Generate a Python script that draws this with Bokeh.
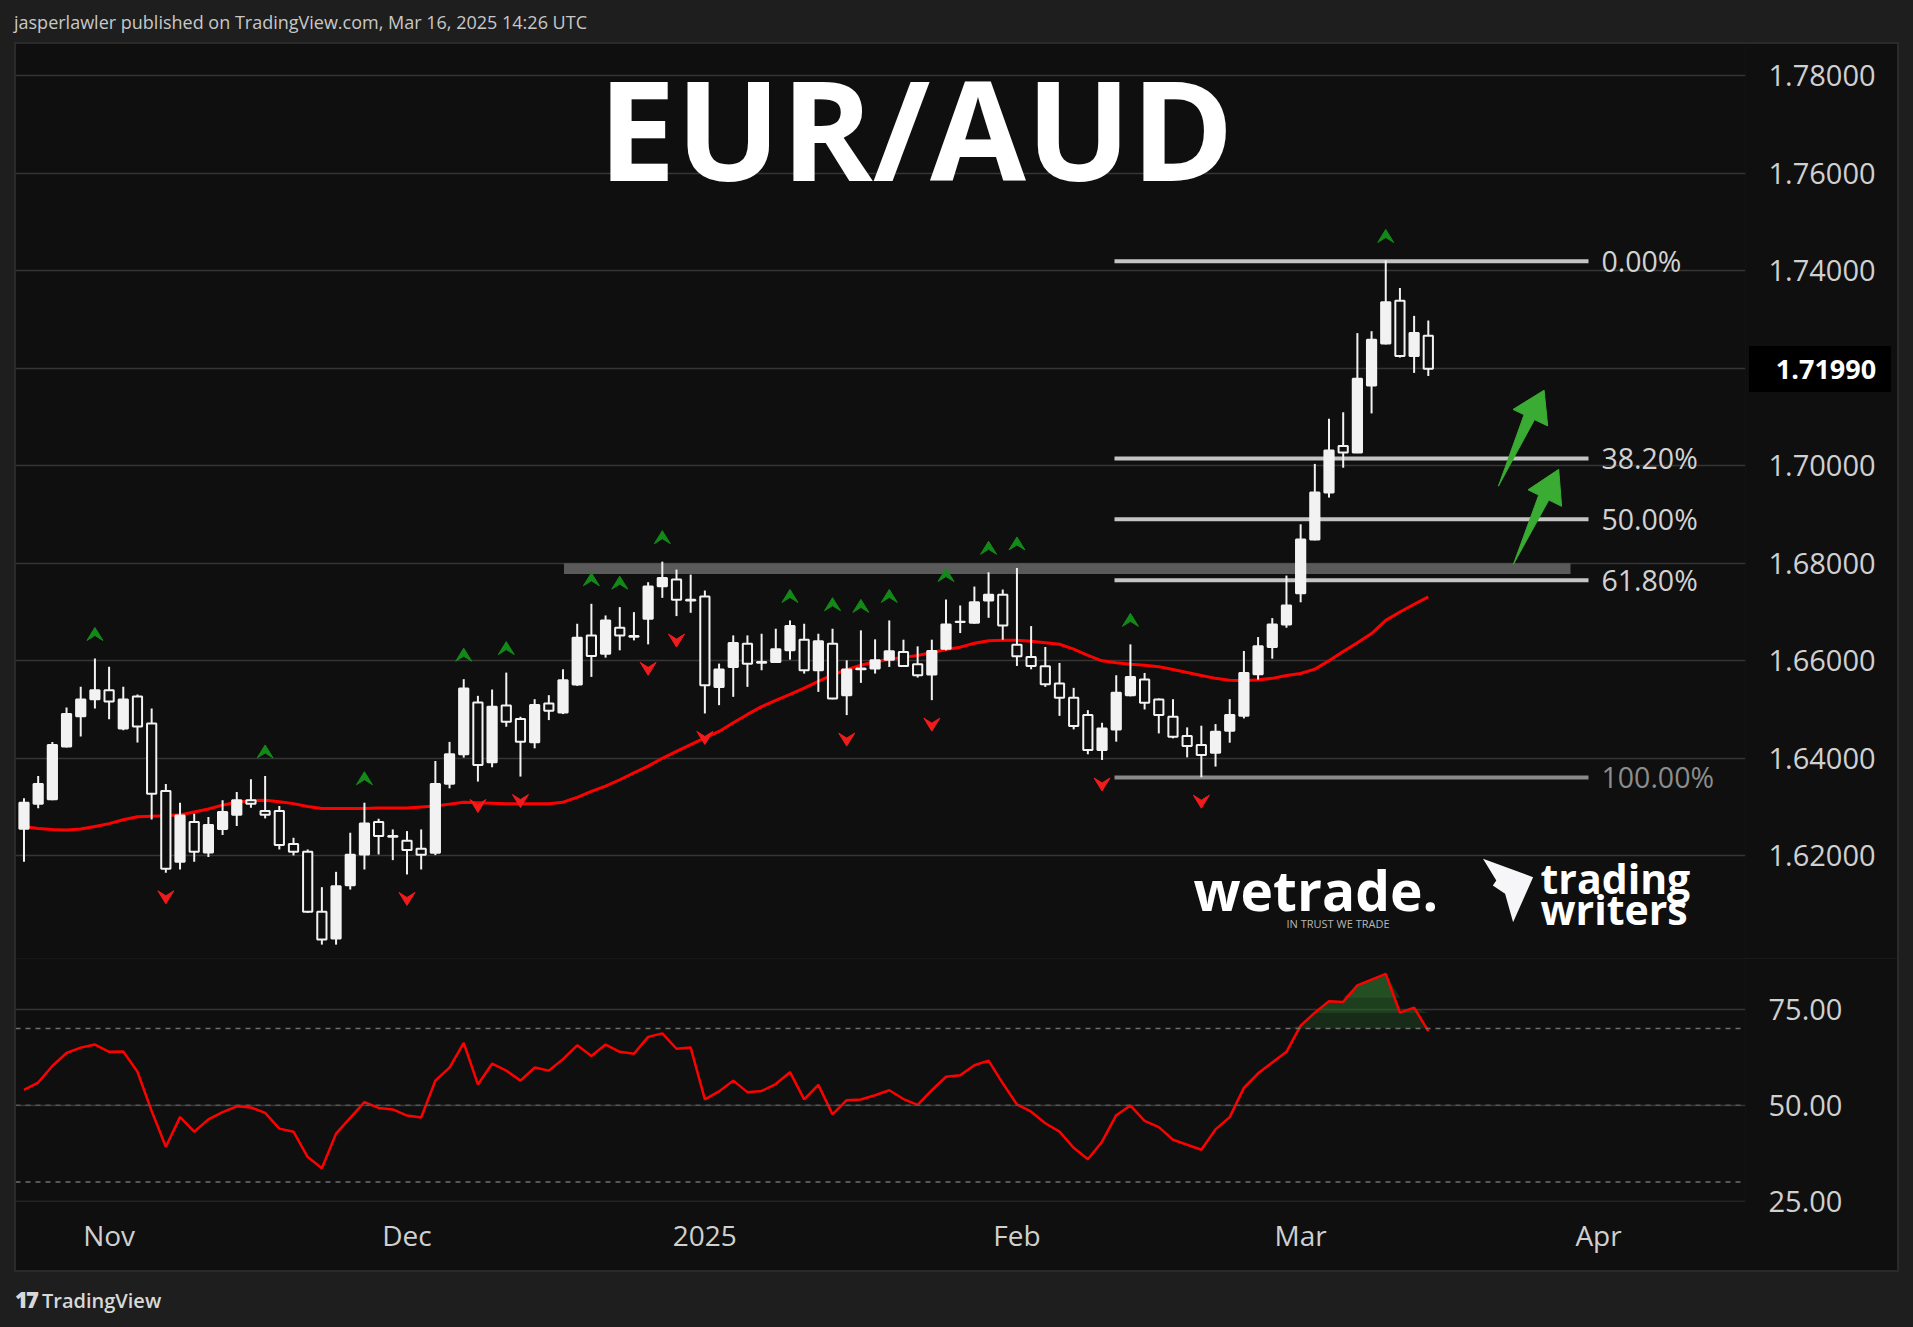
import numpy as np
from bokeh.plotting import figure
from bokeh.models import (Range1d, FixedTicker, PrintfTickFormatter, Label, Div, Spacer,
                          ColumnDataSource, Span, GlobalInlineStyleSheet)
from bokeh.layouts import column, row
from bokeh.embed import file_html
from bokeh.resources import INLINE
from bokeh.core.properties import value

# ---------------- data ----------------
# bar index: 0 = 1 Nov 2024 (weekday bars, 25 Dec and 1 Jan absent)
bar_index = list(range(-6, 94))

opens = [1.62555, 1.63069, 1.63158, 1.64240, 1.64863, 1.65212,
         1.65397, 1.64610, 1.65267, 1.64712, 1.63329, 1.61877, 1.62692, 1.62069, 1.62548, 1.62843,
         1.63137, 1.62918, 1.62918, 1.62240, 1.62082, 1.60850, 1.60302, 1.61397, 1.62028, 1.62692,
         1.62404, 1.62308, 1.62144, 1.62062, 1.63479, 1.64082, 1.65145, 1.63918, 1.65084, 1.64804,
         1.64327, 1.65125, 1.64941, 1.65513, 1.66521, 1.66147, 1.66678, 1.66508, 1.66862, 1.67530,
         1.67666, 1.67250, 1.67319, 1.65465, 1.65874, 1.66351, 1.65976, 1.65976, 1.66215, 1.66433,
         1.65806, 1.66351, 1.65295, 1.65840, 1.65840, 1.66024, 1.66181, 1.65929, 1.65717, 1.66249,
         1.66801, 1.66780, 1.67237, 1.67353, 1.66331, 1.66078, 1.65888, 1.65533, 1.65240, 1.64886,
         1.64170, 1.64593, 1.65295, 1.65615, 1.65206, 1.64852, 1.64457, 1.64273, 1.64116, 1.64566,
         1.64872, 1.65724, 1.66283, 1.66746, 1.67388, 1.68486, 1.69451, 1.70408, 1.70275, 1.71647,
         1.72510, 1.73388, 1.72251, 1.72667]
highs = [1.63178, 1.63637, 1.64336, 1.65041, 1.65466, 1.66048,
         1.65877, 1.65466, 1.65308, 1.65021, 1.63473, 1.63089, 1.62863, 1.62795, 1.63137, 1.63308,
         1.63569, 1.63637, 1.63021, 1.62370, 1.62130, 1.61356, 1.61671, 1.62473, 1.63089, 1.62760,
         1.62541, 1.62507, 1.62541, 1.63945, 1.64336, 1.65623, 1.65281, 1.65411, 1.65758, 1.64852,
         1.65213, 1.65295, 1.65826, 1.66760, 1.67169, 1.66930, 1.67101, 1.66998, 1.67612, 1.68034,
         1.67871, 1.67768, 1.67441, 1.65942, 1.66521, 1.66521, 1.66555, 1.66658, 1.66828, 1.66760,
         1.66555, 1.66658, 1.66010, 1.66624, 1.66440, 1.66828, 1.66433, 1.66296, 1.66433, 1.67257,
         1.67135, 1.67523, 1.67816, 1.67462, 1.67905, 1.66712, 1.66283, 1.65956, 1.65445, 1.64988,
         1.64729, 1.65704, 1.66337, 1.65751, 1.65227, 1.65213, 1.64634, 1.64668, 1.64702, 1.65213,
         1.66201, 1.66487, 1.66876, 1.67748, 1.68800, 1.70039, 1.70965, 1.71098, 1.72722, 1.72761,
         1.74212, 1.73647, 1.73075, 1.72980]
lows = [1.61877, 1.62973, 1.63140, 1.64219, 1.64445, 1.65021,
        1.64801, 1.64575, 1.64322, 1.62747, 1.61651, 1.61719, 1.61877, 1.61973, 1.62425, 1.62610,
        1.62986, 1.62767, 1.62130, 1.62007, 1.60829, 1.60178, 1.60178, 1.61308, 1.61719, 1.62028,
        1.61911, 1.61617, 1.61719, 1.62014, 1.63384, 1.64014, 1.63523, 1.63816, 1.64647, 1.63625,
        1.64205, 1.64784, 1.64907, 1.65486, 1.65670, 1.66065, 1.66215, 1.66419, 1.66337, 1.67291,
        1.66917, 1.66985, 1.64920, 1.65090, 1.65261, 1.65465, 1.65806, 1.65956, 1.66024, 1.65738,
        1.65363, 1.65210, 1.64886, 1.65547, 1.65738, 1.65874, 1.65874, 1.65656, 1.65193, 1.66215,
        1.66569, 1.66760, 1.66882, 1.66433, 1.65894, 1.65826, 1.65465, 1.64870, 1.64593, 1.64082,
        1.63966, 1.64341, 1.65270, 1.65002, 1.64511, 1.64409, 1.64020, 1.63612, 1.63830, 1.64320,
        1.64818, 1.65615, 1.66044, 1.66678, 1.67200, 1.68471, 1.69349, 1.69961, 1.70260, 1.71075,
        1.72490, 1.72220, 1.71906, 1.71843]
closes = [1.63089, 1.63473, 1.64274, 1.64911, 1.65206, 1.65397,
          1.65164, 1.65206, 1.64651, 1.63274, 1.61733, 1.62829, 1.62082, 1.62630, 1.62897, 1.63137,
          1.63069, 1.62843, 1.62219, 1.62082, 1.60850, 1.60281, 1.61377, 1.62021, 1.62665, 1.62404,
          1.62390, 1.62117, 1.62021, 1.63473, 1.64082, 1.65432, 1.63864, 1.65056, 1.64750, 1.64341,
          1.65091, 1.64975, 1.65601, 1.66474, 1.66099, 1.66828, 1.66521, 1.66494, 1.67523, 1.67700,
          1.67250, 1.67236, 1.65499, 1.65820, 1.66365, 1.65942, 1.65962, 1.66235, 1.66712, 1.65806,
          1.66399, 1.65227, 1.65820, 1.65826, 1.66010, 1.66194, 1.65894, 1.65704, 1.66201, 1.66746,
          1.66794, 1.67203, 1.67353, 1.66726, 1.66092, 1.65894, 1.65520, 1.65240, 1.64661, 1.64170,
          1.64613, 1.65343, 1.65670, 1.65138, 1.64886, 1.64443, 1.64252, 1.64068, 1.64545, 1.64886,
          1.65751, 1.66296, 1.66746, 1.67135, 1.68486, 1.69451, 1.70314, 1.70275, 1.71788, 1.72588,
          1.73357, 1.72251, 1.72722, 1.71990]
moving_avg = [1.6260, 1.6256, 1.6254, 1.6253, 1.6255, 1.6260,
              1.6266, 1.6274, 1.6280, 1.6281, 1.6282, 1.6284, 1.6290, 1.6296, 1.6304, 1.6310,
              1.6313, 1.6314, 1.6311, 1.6307, 1.6301, 1.6297, 1.6297, 1.6297, 1.6297, 1.6298,
              1.6298, 1.6298, 1.6300, 1.6302, 1.6306, 1.6310, 1.6309, 1.6308, 1.6307, 1.6307,
              1.6307, 1.6307, 1.6310, 1.6320, 1.6332, 1.6343, 1.6356, 1.6370, 1.6384, 1.6400,
              1.6414, 1.6428, 1.6442, 1.6455, 1.6473, 1.6490, 1.6506, 1.6519, 1.6531, 1.6544,
              1.6558, 1.6571, 1.6582, 1.6591, 1.6598, 1.6603, 1.6607, 1.6611, 1.6617, 1.6623,
              1.6628, 1.6636, 1.6641, 1.6642, 1.6642, 1.6640, 1.6637, 1.6634, 1.6624, 1.6611,
              1.6600, 1.6596, 1.6593, 1.6591, 1.6588, 1.6582, 1.6576, 1.6570, 1.6564, 1.6560,
              1.6559, 1.6561, 1.6564, 1.6570, 1.6574, 1.6583, 1.6600, 1.6619, 1.6637, 1.6656,
              1.6683, 1.6700, 1.6716, 1.6731]
rsi = [54.0, 55.9, 60.2, 63.6, 65.0, 65.8,
       63.9, 64.0, 58.7, 48.5, 39.2, 46.9, 43.1, 46.3, 48.2, 49.7,
       49.4, 48.0, 43.9, 43.1, 36.5, 33.6, 42.6, 46.7, 50.8, 49.3,
       48.9, 47.3, 46.8, 56.4, 59.8, 66.2, 55.4, 60.8, 59.0, 56.4,
       59.8, 59.0, 62.0, 65.6, 62.8, 65.8, 63.9, 63.4, 67.8, 68.7,
       64.7, 65.0, 51.5, 53.6, 56.4, 53.4, 53.7, 55.5, 58.6, 51.5,
       55.3, 47.6, 51.3, 51.5, 52.6, 53.9, 51.6, 50.1, 53.9, 57.4,
       57.8, 60.4, 61.6, 55.7, 50.2, 48.3, 45.3, 43.1, 38.9, 35.9,
       40.5, 47.4, 49.9, 45.9, 44.3, 41.0, 39.7, 38.4, 43.7, 46.9,
       54.5, 58.3, 61.1, 63.9, 70.7, 74.1, 77.1, 76.9, 81.2, 82.7,
       84.2, 74.1, 75.4, 69.3]
swing_high_bars = [-1, 11, 18, 25, 28, 34, 36, 39, 48, 51, 53, 55, 59, 62, 64, 72, 90]
swing_low_bars = [4, 21, 26, 29, 38, 40, 42, 52, 58, 70, 77]
fib_labels = ["0.00%", "38.20%", "50.00%", "61.80%", "100.00%"]
fib_prices = [1.74196, 1.70151, 1.68902, 1.67653, 1.63608]
zone_bottom, zone_top = 1.6778, 1.6800
last_price = 1.71990
price_ticks = [1.62, 1.64, 1.66, 1.68, 1.70, 1.72, 1.74, 1.76, 1.78]
rsi_ticks = [25, 50, 75]
rsi_bands = [30, 50, 70]
month_ticks = [0, 21, 42, 64, 84, 105]
month_labels = ["Nov", "Dec", "2025", "Feb", "Mar", "Apr"]

# ---------------- layout (page pixels; the Bokeh page has no body margin) ----------------
BAR0_X, BAR_PX = 108.6, 14.185
Y_174, PX_PER_PRICE = 270.3, 4875.0
FRAME_L, FRAME_R, PANEL_R = 15, 1745, 1898
TOP, SPLIT, PANE_BOT, PANEL_BOT = 43, 958, 1201, 1271
RSI75_Y, RSI_BOTTOM = 1008.7, 24.92

BG = "#0f0f0f"
FRAME_BG = "#1e1e1e"
CANDLE = "#f2f2f2"
GRID = "#353535"
LABEL = "#d0d0d0"
FONT = "Open Sans"


def dx(px):
    return (px - BAR0_X) / BAR_PX


def dy(py):
    return 1.74 - (py - Y_174) / PX_PER_PRICE


x_range = Range1d(dx(FRAME_L), dx(FRAME_R))
price_range = Range1d(dy(SPLIT), dy(TOP))
rsi_ppu = (PANE_BOT - RSI75_Y) / (75 - RSI_BOTTOM)
rsi_range = Range1d(RSI_BOTTOM, 75 + (RSI75_Y - SPLIT) / rsi_ppu)


def style_axis(ax, size):
    ax.axis_line_color = None
    ax.major_tick_line_color = None
    ax.minor_tick_line_color = None
    ax.major_label_text_color = LABEL
    ax.major_label_text_font = FONT
    ax.major_label_text_font_size = size


# ---------------- price pane ----------------
p = figure(frame_width=FRAME_R - FRAME_L, frame_height=SPLIT - TOP,
           x_range=x_range, y_range=price_range,
           output_backend="svg", toolbar_location=None,
           x_axis_location=None, y_axis_location="right",
           min_border_left=0, min_border_top=0, min_border_bottom=0,
           min_border_right=PANEL_R - FRAME_R,
           background_fill_color=BG, border_fill_color=BG, outline_line_color=None)
p.xgrid.visible = False
p.ygrid.ticker = FixedTicker(ticks=price_ticks)
p.ygrid.grid_line_color = GRID
p.ygrid.grid_line_width = 1.5
# the last-price tag covers the label nearest to it
axis_ticks = [t for t in price_ticks if abs(t - last_price) > 0.005]
p.yaxis.ticker = FixedTicker(ticks=axis_ticks)
p.yaxis.formatter = PrintfTickFormatter(format="%.5f")
p.yaxis.major_label_standoff = 17
style_axis(p.yaxis[0], "29px")

# support zone
p.quad(left=dx(563.5), right=dx(1570), bottom=zone_bottom, top=zone_top,
       fill_color="#5a5a5a", line_color=None)

# fibonacci retracement
fib_colors = ["#c4c4c4", "#c4c4c4", "#c4c4c4", "#c4c4c4", "#8a8a8a"]
fib_text_colors = ["#d2d2d2", "#d2d2d2", "#d2d2d2", "#d2d2d2", "#8c8c8c"]
fsrc = ColumnDataSource(dict(y=fib_prices, t=fib_labels, lc=fib_colors, tc=fib_text_colors,
                             x0=[dx(1114)] * len(fib_prices), x1=[dx(1588)] * len(fib_prices),
                             xt=[dx(1601)] * len(fib_prices)))
p.segment(x0="x0", y0="y", x1="x1", y1="y", line_color="lc", line_width=4, source=fsrc)
p.text(x="xt", y="y", text="t", text_color="tc", text_font=value(FONT),
       text_font_size="28.5px", text_baseline="middle", text_align="left", source=fsrc)

# moving average
p.line(bar_index, moving_avg, line_color="#ff0000", line_width=3)

# candles
o = np.array(opens)
c = np.array(closes)
src = ColumnDataSource(dict(x=bar_index, h=highs, l=lows,
                            top=np.maximum(o, c), bot=np.minimum(o, c),
                            fill=[CANDLE if cc >= oo else BG for oo, cc in zip(opens, closes)]))
p.segment(x0="x", y0="l", x1="x", y1="h", line_color=CANDLE, line_width=2, source=src)
p.vbar(x="x", width=0.65, top="top", bottom="bot", fill_color="fill",
       line_color=CANDLE, line_width=2, source=src)

# swing markers
up_shape = [(-8, -6), (0, 7), (8, -6), (0, -1)]
uxs, uys = [], []
for b in swing_high_bars:
    k = bar_index.index(b)
    cy = highs[k] + 24 / PX_PER_PRICE
    uxs.append([b + sx / BAR_PX for sx, sy in up_shape])
    uys.append([cy + sy / PX_PER_PRICE for sx, sy in up_shape])
p.patches(uxs, uys, fill_color="#138a18", line_color="#138a18", line_width=1)
dxs, dys = [], []
for b in swing_low_bars:
    k = bar_index.index(b)
    cy = lows[k] - 24 / PX_PER_PRICE
    dxs.append([b + sx / BAR_PX for sx, sy in up_shape])
    dys.append([cy - sy / PX_PER_PRICE for sx, sy in up_shape])
p.patches(dxs, dys, fill_color="#f21b1b", line_color="#f21b1b", line_width=1)


# hand-drawn green arrows
def arrow(tail, tip, bl, br):
    sl = (bl[0] + 0.32 * (br[0] - bl[0]), bl[1] + 0.32 * (br[1] - bl[1]))
    sr = (bl[0] + 0.62 * (br[0] - bl[0]), bl[1] + 0.62 * (br[1] - bl[1]))
    pts = [tail, sl, bl, tip, br, sr]
    return [dx(a) for a, b in pts], [dy(b) for a, b in pts]


a1 = arrow((1497.9, 485.7), (1543.6, 389.7), (1512.5, 408.9), (1547.2, 425.4))
a2 = arrow((1512.9, 563.8), (1558.2, 468.8), (1527.5, 489.3), (1561.1, 505.8))
p.patches([a1[0], a2[0]], [a1[1], a2[1]], fill_color="#3aab33", line_color="#3aab33", line_width=1)

# watermark logos
pen = [(1482.5, 858.3), (1532.6, 876.7), (1512.6, 921.7), (1504.6, 893.3), (1492.3, 885), (1495.8, 880)]
p.patch([dx(a) for a, b in pen], [dy(b) for a, b in pen], fill_color="#f6f6f8", line_color=None)
p.add_layout(Label(x=dx(1193), y=dy(889), text="wetrade.", text_font=FONT, text_font_style="bold",
                   text_font_size="55px", text_color="white", text_baseline="middle"))
p.add_layout(Label(x=dx(1286), y=dy(923), text="IN TRUST WE TRADE", text_font=FONT,
                   text_font_size="11px", text_color="#b8b8b8", text_baseline="middle"))
p.add_layout(Label(x=dx(1540), y=dy(877), text="trading", text_font=FONT, text_font_style="bold",
                   text_font_size="41px", text_color="white", text_baseline="middle"))
p.add_layout(Label(x=dx(1540), y=dy(908), text="writers", text_font=FONT, text_font_style="bold",
                   text_font_size="41px", text_color="white", text_baseline="middle"))

# ---------------- RSI pane ----------------
r = figure(frame_width=FRAME_R - FRAME_L, frame_height=PANE_BOT - SPLIT,
           x_range=x_range, y_range=rsi_range,
           output_backend="svg", toolbar_location=None,
           x_axis_location="below", y_axis_location="right",
           min_border_left=0, min_border_top=0, min_border_bottom=PANEL_BOT - PANE_BOT,
           min_border_right=PANEL_R - FRAME_R,
           background_fill_color=BG, border_fill_color=BG, outline_line_color=None)
r.xgrid.visible = False
r.ygrid.ticker = FixedTicker(ticks=rsi_ticks)
r.ygrid.grid_line_color = GRID
r.ygrid.grid_line_width = 1.5
r.yaxis.ticker = FixedTicker(ticks=rsi_ticks)
r.yaxis.formatter = PrintfTickFormatter(format="%.2f")
r.yaxis.major_label_standoff = 17
style_axis(r.yaxis[0], "29px")
r.xaxis.ticker = FixedTicker(ticks=month_ticks)
r.xaxis.major_label_overrides = {t: s for t, s in zip(month_ticks, month_labels)}
r.xaxis.major_label_standoff = 8
style_axis(r.xaxis[0], "28px")

for lvl in rsi_bands:
    r.add_layout(Span(location=lvl, dimension="width", line_color="#6f6f6f" if lvl != 50 else "#555555",
                      line_width=1.5, line_dash="5 5"))

rsi_arr = np.array(rsi)
for base, alpha in [(70, 0.30), (74, 0.30), (78, 0.35)]:
    r.varea(x=bar_index, y1=[base] * len(rsi), y2=np.maximum(rsi_arr, base),
            fill_color="#2f6e2f", fill_alpha=alpha)
r.line(bar_index, rsi, line_color="#ff0000", line_width=2.5)

# ---------------- frame texts ----------------
header = Div(text="<div style=\"padding:12px 0 0 14px;font-family:'Open Sans',sans-serif;font-size:18px;"
                  "line-height:20px;color:#c8c8c8;white-space:nowrap;\">"
                  "jasperlawler published on TradingView.com, Mar 16, 2025 14:26 UTC</div>",
             width=PANEL_R, height=TOP, margin=0)
footer = Div(text="<div style=\"padding:17px 0 0 15px;font-family:'Open Sans',sans-serif;font-size:20px;"
                  "line-height:22px;color:#d8d8d8;white-space:nowrap;font-weight:600;\">"
                  "<b style='font-size:22px;letter-spacing:-2px;'>17</b>&nbsp;TradingView</div>",
             width=PANEL_R, height=50, margin=0)
title = Div(text="<div style=\"width:800px;height:190px;text-align:center;font-family:'Open Sans',sans-serif;"
                 "font-weight:bold;font-size:139px;line-height:190px;color:#ffffff;white-space:nowrap;\">"
                 "EUR/AUD</div>",
            width=800, height=190, margin=0,
            styles={"position": "absolute", "left": "516px", "top": "32px"})
tag = Div(text="<div style=\"width:142px;height:46px;box-sizing:border-box;padding-left:12px;text-align:center;"
               "background:#000000;color:#ffffff;font-family:'Open Sans',sans-serif;font-weight:bold;"
               "font-size:27px;line-height:46px;white-space:nowrap;\">%.5f</div>" % last_price,
          width=142, height=46, margin=0,
          styles={"position": "absolute", "left": "1749px", "top": "346px"})
border = Div(text="", width=PANEL_R - FRAME_L + 2, height=PANEL_BOT - TOP + 2, margin=0,
             styles={"position": "absolute", "left": "%dpx" % (FRAME_L - 1), "top": "%dpx" % (TOP - 1),
                     "border": "2px solid #2a2a2a", "box-sizing": "border-box",
                     "pointer-events": "none"})

panes = row(Spacer(width=FRAME_L, height=10), column(p, r, spacing=0), spacing=0)
layout = column(header, panes, footer, title, tag, border, spacing=0,
                styles={"background-color": FRAME_BG, "position": "relative"},
                stylesheets=[GlobalInlineStyleSheet(css="body{background-color:#1e1e1e;}")])

open("out.html", "w").write(file_html(layout, INLINE))
